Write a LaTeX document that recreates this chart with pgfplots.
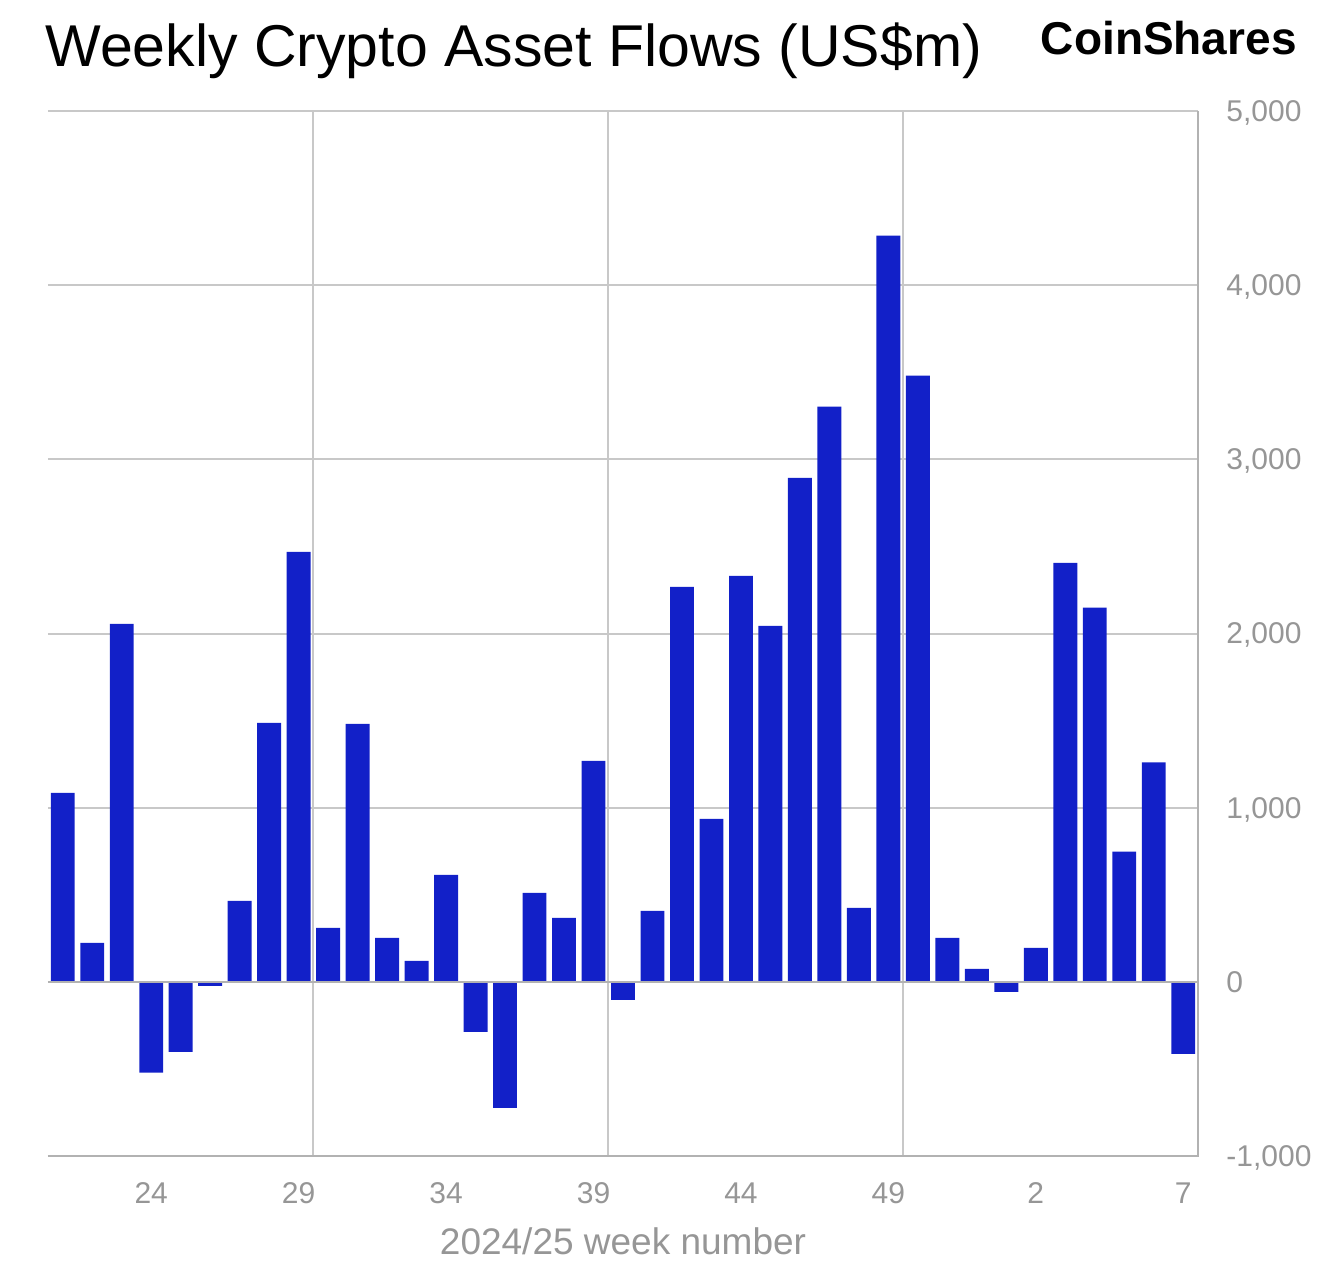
\documentclass[border=0pt]{standalone}
\usepackage{fontspec}
\setmainfont{Liberation Sans}
\usepackage{pgfplots}
\pgfplotsset{compat=1.18}
\definecolor{barblue}{RGB}{18,32,200}
\definecolor{gridgray}{RGB}{200,200,200}
\definecolor{axisgray}{RGB}{178,178,178}
\definecolor{labelgray}{RGB}{150,150,150}

\pgfplotstableread{
idx val
0 1085
1 224
2 2055
3 -522
4 -402
5 -23
6 465
7 1487
8 2468
9 310
10 1481
11 253
12 121
13 614
14 -287
15 -723
16 511
17 367
18 1269
19 -103
20 408
21 2268
22 936
23 2331
24 2044
25 2893
26 3302
27 425
28 4285
29 3480
30 253
31 75
32 -57
33 195
34 2406
35 2148
36 748
37 1260
38 -413
}\flows

\begin{document}
\begin{tikzpicture}
\path[use as bounding box] (-24pt,-62pt) rectangle (643pt,578pt);
\begin{axis}[
  at={(0,0)}, anchor=south west,
  scale only axis, width=575pt, height=522.5pt,
  xmin=-0.5, xmax=38.5, ymin=-1000, ymax=5000,
  ytick={-1000,0,1000,2000,3000,4000,5000},
  xtick={3,8,13,18,23,28,33,38},
  xticklabels={24,29,34,39,44,49,2,7},
  extra x ticks={8.5,18.5,28.5},
  extra x tick labels={},
  extra x tick style={grid=major},
  ymajorgrids,
  major grid style={gridgray, line width=1pt},
  axis line style={draw=none},
  major tick length=0pt,
  tick style={draw=none},
  yticklabel pos=right,
  /pgf/number format/assume math mode=true,
  /pgf/number format/1000 sep={,},
  xticklabel style={font=\fontsize{15}{18}\selectfont, text=labelgray, anchor=base, yshift=-23.5pt},
  yticklabel style={font=\fontsize{15}{18}\selectfont, text=labelgray, anchor=west, inner sep=0pt, text depth=0pt, xshift=14pt},
  xlabel={2024/25 week number},
  xlabel style={font=\fontsize{18.5}{22}\selectfont, text=labelgray, at={(axis description cs:0.5,0)}, anchor=base, yshift=-49pt},
  clip=false,
]
\addplot[ybar, bar width=0.81, fill=barblue, draw=none] table[x=idx, y=val] {\flows};
\draw[axisgray, line width=1pt] (axis cs:-0.5,0) -- (axis cs:38.5,0);
\draw[axisgray, line width=1pt] (rel axis cs:0,0) -- (rel axis cs:1,0) -- (rel axis cs:1,1);
\end{axis}
\node[anchor=base west, inner sep=0pt, font=\fontsize{29.5}{35}\selectfont] at (-1.5pt,544.5pt) {Weekly Crypto Asset Flows (US\$m)};
\node[anchor=base east, inner sep=0pt, font=\bfseries\fontsize{23}{28}\selectfont] at (624.5pt,550.5pt) {CoinShares};
\end{tikzpicture}
\end{document}
